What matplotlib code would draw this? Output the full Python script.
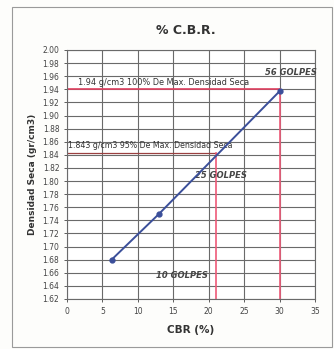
import matplotlib
matplotlib.use("Agg")
import matplotlib.pyplot as plt
from matplotlib.patches import Rectangle

# Compaction points: CBR (%) vs dry density (g/cm3)
cbr = [6.3, 13.0, 30.0]
density = [1.680, 1.750, 1.937]

max_density = 1.94
density_95 = 1.843
cbr_95 = 21.0
cbr_100 = 30.0

xticks = [0, 5, 10, 15, 20, 25, 30, 35]
yticks = [round(1.62 + 0.02 * i, 2) for i in range(20)]

fig = plt.figure(figsize=(3.34, 3.49), dpi=100)
fig.patch.set_facecolor("#fdfdfb")
fig.patches.append(Rectangle((12 / 334, 2 / 349), 320 / 334, 340 / 349,
                             transform=fig.transFigure, fill=False,
                             edgecolor="#9a9a9a", lw=0.8))

ax = fig.add_axes([0.2006, 0.1433, 0.7424, 0.7135])
ax.set_facecolor("white")
ax.set_xlim(0, 35)
ax.set_ylim(1.62, 2.00)
ax.set_xticks(xticks)
ax.set_yticks(yticks)
ax.set_yticklabels([f"{v:.2f}" for v in yticks])
ax.grid(True, color="#6a6a6a", lw=0.8)
ax.set_axisbelow(True)
for s in ax.spines.values():
    s.set_color("#6a6a6a")
    s.set_linewidth(0.8)
ax.tick_params(labelsize=5.5, colors="#444444", length=2, width=0.6)

# Reference lines at 100% and 95% of maximum dry density
ax.plot([0, cbr_100], [max_density, max_density], color="#e04060", lw=1.2)
ax.plot([cbr_100, cbr_100], [1.62, max_density], color="#ee5a78", lw=1.2)
ax.plot([0, cbr_95], [density_95, density_95], color="#9a4040", lw=0.9)
ax.plot([cbr_95, cbr_95], [1.62, density_95], color="#ee5a78", lw=1.2)

ax.plot(cbr, density, color="#3b4f9a", lw=1.4, marker="o", ms=3.5,
        markerfacecolor="#3b4f9a", zorder=5)

ax.text(1.6, max_density + 0.004, "1.94 g/cm3 100% De Max. Densidad Seca",
        fontsize=5.9, color="#333333", va="bottom")
ax.text(0.2, density_95 + 0.004, "1.843 g/cm3 95% De Max. Densidad Seca",
        fontsize=5.7, color="#333333", va="bottom")
ax.text(35.3, 1.965, "56 GOLPES", fontsize=6, fontweight="bold",
        style="italic", color="#444444", ha="right", va="center")
ax.text(18.1, 1.808, "25 GOLPES", fontsize=6, fontweight="bold",
        style="italic", color="#444444", ha="left", va="center")
ax.text(12.6, 1.656, "10 GOLPES", fontsize=6, fontweight="bold",
        style="italic", color="#444444", ha="left", va="center")

fig.text(186 / 334, 1 - 30 / 349, "% C.B.R.", fontsize=9, fontweight="bold",
         color="#333333", ha="center", va="center")
ax.set_xlabel("CBR (%)", fontsize=7.5, fontweight="bold", color="#333333", labelpad=7)
ax.set_ylabel("Densidad Seca (gr/cm3)", fontsize=6.5, fontweight="bold",
              color="#333333", labelpad=4)

fig.savefig("out.png", dpi=100, facecolor=fig.get_facecolor())
